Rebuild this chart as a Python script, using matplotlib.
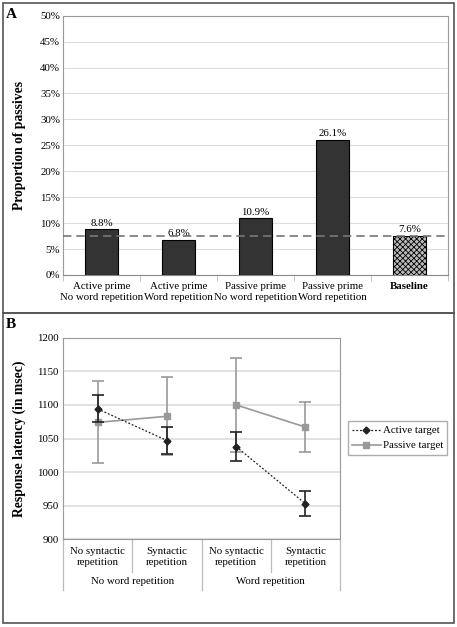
import matplotlib
matplotlib.use("Agg")
import matplotlib.pyplot as plt
from matplotlib.patches import Rectangle
from matplotlib.lines import Line2D
import numpy as np

plt.rcParams['font.family'] = ['Liberation Serif', 'DejaVu Serif']
plt.rcParams['hatch.color'] = '#222222'
plt.rcParams['hatch.linewidth'] = 0.6

# Panel A data
catsA = ["Active prime\nNo word repetition", "Active prime\nWord repetition",
         "Passive prime\nNo word repetition", "Passive prime\nWord repetition", "Baseline"]
propA = [8.8, 6.8, 10.9, 26.1, 7.6]
labelsA = ["8.8%", "6.8%", "10.9%", "26.1%", "7.6%"]
baseline = 7.6

# Panel B data
catsB = ["No syntactic\nrepetition", "Syntactic\nrepetition",
         "No syntactic\nrepetition", "Syntactic\nrepetition"]
groupsB = ["No word repetition", "Word repetition"]
active = [1094, 1047, 1038, 953]
active_err = [20, 20, 22, 19]
passive = [1074, 1083, 1100, 1067]
passive_err = [61, 58, 70, 37]

W, H = 457, 627
fig = plt.figure(figsize=(W/100, H/100), dpi=100)

def fx(x): return x / W
def fy(y): return 1 - y / H

FS = 7.8

# panel borders
fig.patches.append(Rectangle((fx(3), fy(313)), fx(451), 310/H, transform=fig.transFigure,
                             fill=False, ec='#555555', lw=1.2))
fig.patches.append(Rectangle((fx(3), fy(623)), fx(451), 310/H, transform=fig.transFigure,
                             fill=False, ec='#555555', lw=1.2))
fig.text(fx(6), fy(14), "A", fontsize=11, fontweight='bold', va='center', ha='left')
fig.text(fx(6), fy(324), "B", fontsize=11, fontweight='bold', va='center', ha='left')

# ---------- Panel A ----------
axA = fig.add_axes([fx(63), fy(275), (448-63)/W, (275-15.7)/H])
x = np.arange(len(catsA))
colors = ['#333333'] * 4 + ['#bbbbbb']
bars = axA.bar(x, propA, width=0.42, color=colors, edgecolor='black', linewidth=0.8, zorder=3)
bars[-1].set_hatch('xxxxxx')
for xi, v, lab in zip(x, propA, labelsA):
    axA.text(xi, v + 0.35, lab, ha='center', va='bottom', fontsize=FS, zorder=4)
axA.axhline(baseline, color='#777777', ls=(0, (5, 3)), lw=1.2, zorder=4)
axA.set_xlim(-0.5, 4.5)
axA.set_ylim(0, 50)
axA.set_yticks(np.arange(0, 51, 5))
axA.set_yticklabels([f"{v}%" for v in range(0, 51, 5)], fontsize=FS)
axA.set_xticks(x)
axA.set_xticklabels(catsA, fontsize=FS, linespacing=1.25)
axA.get_xticklabels()[-1].set_fontweight('bold')
axA.tick_params(axis='x', length=0, pad=5)
axA.tick_params(axis='y', length=0, pad=2)
axA.set_xticks(np.arange(-0.5, 5, 1), minor=True)
axA.tick_params(axis='x', which='minor', length=4, color='#bbbbbb')
axA.grid(axis='y', color='#dddddd', lw=0.8, zorder=0)
for s in axA.spines.values():
    s.set_color('#999999')
axA.spines['bottom'].set_color('#888888')
axA.set_ylabel("Proportion of passives", fontsize=9.8, fontweight='bold', labelpad=10)

# ---------- Panel B ----------
axB = fig.add_axes([fx(63), fy(539.3), (340-63)/W, (539.3-337.7)/H])
xb = np.arange(len(catsB))
for g in range(2):
    sl = slice(2 * g, 2 * g + 2)
    axB.errorbar(xb[sl], passive[sl], yerr=passive_err[sl], color='#999999', marker='s', ms=4,
                 ls='-', lw=1.2, capsize=4, elinewidth=1.2, capthick=1.2, zorder=3)
    axB.errorbar(xb[sl], active[sl], yerr=active_err[sl], color='#222222', marker='D', ms=3.5,
                 ls=(0, (1.5, 1.5)), lw=0.9, capsize=4, elinewidth=1.2, capthick=1.2,
                 zorder=4)
axB.set_xlim(-0.5, 3.5)
axB.set_ylim(900, 1200)
axB.set_yticks(np.arange(900, 1201, 50))
axB.tick_params(axis='y', length=0, labelsize=FS, pad=3)
axB.set_xticks([])
axB.grid(axis='y', color='#dddddd', lw=1.2, zorder=0)
for s in axB.spines.values():
    s.set_color('#999999')
axB.set_ylabel("Response latency (in msec)", fontsize=9.8, fontweight='bold', labelpad=8)

# hierarchical category labels
trans = axB.get_xaxis_transform()
def ay(ypix):
    return (539.3 - ypix) / (539.3 - 337.7)
for xi, c in zip(xb, catsB):
    axB.text(xi, ay(557), c, transform=trans, ha='center', va='center', fontsize=FS,
             linespacing=1.15, clip_on=False)
for gi, g in enumerate(groupsB):
    axB.text(gi * 2 + 0.5, ay(581), g, transform=trans, ha='center', va='center',
             fontsize=FS, clip_on=False)
for xv, yend in [(-0.5, 590), (0.5, 572), (1.5, 590), (2.5, 572), (3.5, 590)]:
    axB.add_line(Line2D([xv, xv], [0, ay(yend)], transform=trans, color='#bbbbbb',
                        lw=0.9, clip_on=False))

handles = [Line2D([], [], color='#222222', marker='D', ms=3.5, ls=(0, (1.5, 1.5)), lw=0.9),
           Line2D([], [], color='#999999', marker='s', ms=4, ls='-', lw=1.2)]
leg = axB.legend(handles, ['Active target', 'Passive target'], loc='center left',
                 bbox_to_anchor=(fx(348), fy(438)), bbox_transform=fig.transFigure,
                 fontsize=FS, frameon=True, fancybox=False, edgecolor='#999999',
                 handlelength=2.6, borderpad=0.4, labelspacing=0.5, handletextpad=0.2,
                 borderaxespad=0)

fig.savefig("out.png", dpi=100)
